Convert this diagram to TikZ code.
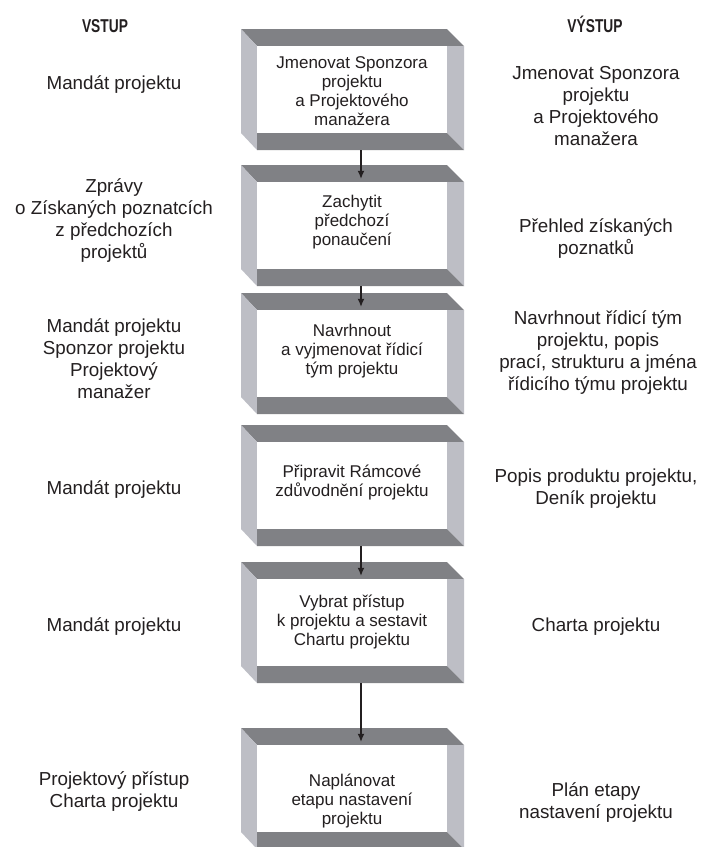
\documentclass[tikz,border=0pt]{standalone}
\usepackage{fontspec}
\usepackage{graphicx}
\setmainfont{Liberation Sans}
\usetikzlibrary{arrows.meta}
\definecolor{bdark}{RGB}{128,129,133}
\definecolor{blight}{RGB}{189,190,197}
\definecolor{txt}{RGB}{35,31,32}
\tikzset{
  inner/.style={fill=white, draw=none, minimum width=190pt, minimum height=87pt, inner sep=0pt},
  boxtext/.style={align=center, text=txt, inner sep=0pt, font=\fontsize{17}{19}\selectfont},
  side/.style={align=center, text=txt, inner sep=0pt, font=\fontsize{18.8}{22}\selectfont},
  head/.style={text=txt, inner sep=0pt, anchor=base, font=\fontsize{18.6}{22}\selectfont\bfseries},
  arr/.style={draw=txt, line width=1.2pt, -{Latex[length=8pt,width=7pt]}}
}
\newcommand\bevelbox[2]{%
  \fill[bdark] (241,#2) -- (447,#2) -- (464,#2+17) -- (257,#2+17) -- cycle;
  \fill[blight] (241,#2) -- (257,#2+17) -- (257,#2+121) -- (241,#2+104) -- cycle;
  \fill[blight] (447,#2+17) -- (464,#2+17) -- (464,#2+121) -- (447,#2+104) -- cycle;
  \fill[bdark] (257,#2+104) -- (447,#2+104) -- (464,#2+121) -- (257,#2+121) -- cycle;
  \node[inner] (#1) at (352,#2+60.5) {};
}
\begin{document}
\begin{tikzpicture}[x=1pt,y=-1pt]
\fill[white] (0,0) rectangle (710,847);
\useasboundingbox (0,0) rectangle (710,847);

\node[head] (hin) at (105,32) {\scalebox{0.74}[1]{VSTUP}};
\node[head] (hout) at (595,32) {\scalebox{0.74}[1]{VÝSTUP}};

\bevelbox{b1}{29}
\bevelbox{b2}{165}
\bevelbox{b3}{293}
\bevelbox{b4}{425}
\bevelbox{b5}{562}
\bevelbox{b6}{728}

\node[boxtext] (t1) at (352,91) {Jmenovat Sponzora\\projektu\\a Projektového\\manažera};
\node[boxtext] (t2) at (352,222) {Zachytit\\předchozí\\ponaučení};
\node[boxtext] (t3) at (352,351) {Navrhnout\\a vyjmenovat řídicí\\tým projektu};
\node[boxtext] (t4) at (352,482) {Připravit Rámcové\\zdůvodnění projektu};
\node[boxtext] (t5) at (352,622) {Vybrat přístup\\k projektu a sestavit\\Chartu projektu};
\node[boxtext] (t6) at (352,801) {Naplánovat\\etapu nastavení\\projektu};

\node[side] (l1) at (114,85) {Mandát projektu};
\node[side] (l2) at (114,221) {Zprávy\\o Získaných poznatcích\\z předchozích\\projektů};
\node[side] (l3) at (114,359) {Mandát projektu\\Sponzor projektu\\Projektový\\manažer};
\node[side] (l4) at (114,490) {Mandát projektu};
\node[side] (l5) at (114,627) {Mandát projektu};
\node[side] (l6) at (114,792) {Projektový přístup\\Charta projektu};

\node[side] (r1) at (596,106) {Jmenovat Sponzora\\projektu\\a Projektového\\manažera};
\node[side] (r2) at (596,239) {Přehled získaných\\poznatků};
\node[side] (r3) at (598,353) {Navrhnout řídicí tým\\projektu, popis\\prací, strukturu a jména\\řídicího týmu projektu};
\node[side] (r4) at (596,489) {Popis produktu projektu,\\Deník projektu};
\node[side] (r5) at (596,627) {Charta projektu};
\node[side] (r6) at (596,803) {Plán etapy\\nastavení projektu};

\draw[arr] ([xshift=9pt,yshift=-17pt]b1.south) -- ([xshift=9pt,yshift=3pt]b2.north);
\draw[arr] ([xshift=9pt,yshift=-17pt]b2.south) -- ([xshift=9pt,yshift=3pt]b3.north);
\draw[arr] ([xshift=9pt,yshift=-17pt]b4.south) -- ([xshift=9pt,yshift=3pt]b5.north);
\draw[arr] ([xshift=9pt,yshift=-17pt]b5.south) -- ([xshift=9pt,yshift=3pt]b6.north);
\end{tikzpicture}
\end{document}
